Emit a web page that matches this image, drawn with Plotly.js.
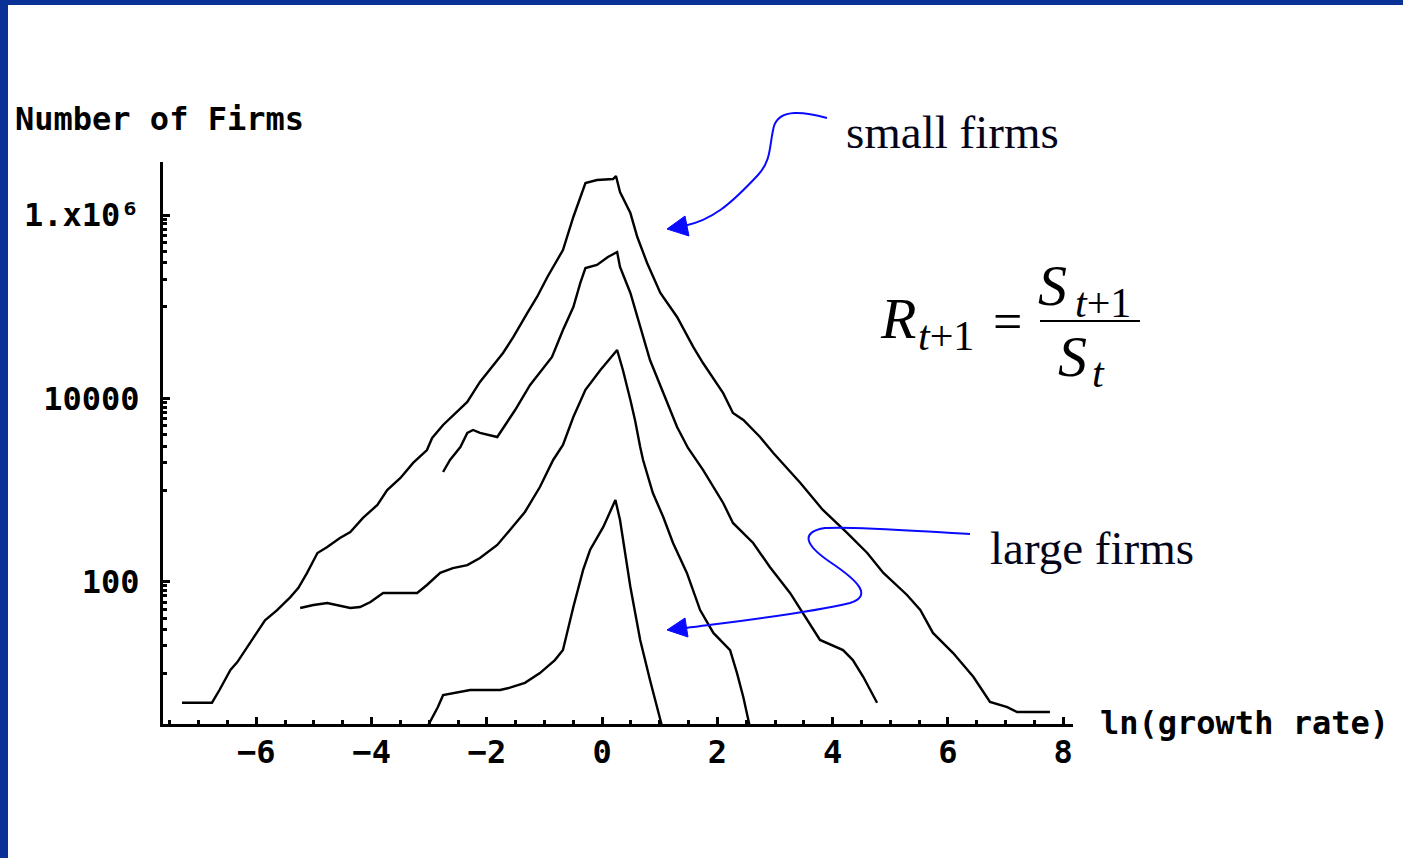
<!DOCTYPE html>
<html>
<head>
<meta charset="utf-8">
<script src="https://cdn.plot.ly/plotly-3.0.1.min.js"></script>
<style>
html,body{margin:0;padding:0;background:#fff;overflow:hidden;}
#chart{position:absolute;left:0;top:0;width:1403px;height:858px;}
#bl{position:absolute;left:0;top:0;width:8px;height:858px;background:#0a3296;}
#bt{position:absolute;left:0;top:0;width:1403px;height:5px;background:#0a3296;}
</style>
</head>
<body>
<div id="chart"></div>
<div id="bl"></div>
<div id="bt"></div>
<script>
// ---- data ----
const xTickVals = [-6, -4, -2, 0, 2, 4, 6, 8];
const yTickVals = [100, 10000, 1000000];
const yTickText = ["100", "10000", "1.x10\u2076"];

const curve1X = [-7.29,-6.77,-6.64,-6.45,-6.33,-6.16,-5.99,-5.85,-5.64,-5.41,-5.27,-5.12,-4.94,-4.77,-4.55,-4.37,-4.15,-3.90,-3.73,-3.50,-3.28,-3.04,-2.95,-2.76,-2.34,-2.12,-1.72,-1.54,-1.30,-1.13,-0.95,-0.78,-0.68,-0.50,-0.29,-0.09,0.19,0.24,0.31,0.49,0.61,0.78,1.01,1.30,1.58,1.75,2.10,2.27,2.45,2.74,2.97,3.44,3.83,4.25,4.60,4.88,5.29,5.52,5.74,6.09,6.44,6.73,7.03,7.20,7.77];
const curve1Y = [4.8,4.8,6.6,10.9,13.3,19.5,27.7,38,49,68,86,125,206,239,300,349,497,689,1000,1355,1977,2735,3700,5130,9140,15100,31300,46800,85300,127600,211000,323000,415000,951000,2230000,2410000,2470000,2660000,1780000,1050000,575000,300000,141000,77200,36400,24300,11400,6930,5810,3790,2540,1195,607,341,206,125,71.8,49.2,27.7,16.7,9.2,4.9,4.3,3.8,3.8];

const curve2X = [-2.76,-2.64,-2.46,-2.34,-2.24,-2.12,-1.82,-1.51,-1.25,-0.87,-0.68,-0.50,-0.38,-0.29,-0.09,0.10,0.26,0.31,0.49,0.66,0.83,1.06,1.30,1.49,1.75,2.10,2.27,2.62,2.91,3.26,3.56,3.78,4.18,4.35,4.53,4.77];
const curve2Y = [1574,2128,2950,4200,4520,4200,3790,7470,14000,28300,55700,99300,181000,264000,285000,348000,395000,271000,141000,60100,26200,11500,4880,2880,1660,723,438,265,145,75.5,38.3,23.2,18.0,14.0,9.2,4.8];

const curve3X = [-5.24,-5.01,-4.77,-4.60,-4.37,-4.20,-4.02,-3.80,-3.21,-3.04,-2.81,-2.59,-2.34,-2.12,-1.82,-1.60,-1.34,-1.08,-0.85,-0.68,-0.50,-0.29,-0.03,0.26,0.36,0.49,0.57,0.66,0.71,0.88,1.06,1.23,1.47,1.70,1.93,2.22,2.34,2.45,2.53,2.57];
const curve3Y = [51.8,55.8,58.7,55.8,51.8,53.1,60.2,75.5,75.5,92.3,125,141,152,182,252,367,577,1080,2130,3100,6270,12400,20400,33700,20400,9620,5810,2950,2130,929,509,265,125,49.2,27.7,18.0,10.1,5.5,3.1,2.5];

const curve4X = [-3.05,-2.85,-2.76,-2.59,-2.29,-1.77,-1.60,-1.34,-1.08,-0.82,-0.68,-0.50,-0.33,-0.21,0.02,0.23,0.31,0.49,0.66,0.83,1.01,1.05];
const curve4Y = [2.5,4.3,5.8,6.1,6.6,6.6,7.0,7.9,10.1,14.0,18.0,53.1,135,222,396,780,472,87.7,23.2,8.5,3.1,2.5];

// ---- minor log ticks: the decade below each labelled value ----
const yMinor = [];
[10, 1000, 100000].forEach(d => { for (let k = 1; k <= 9; k++) yMinor.push(k * d); });

// ---- helpers for decorations (pixel -> paper) ----
const L = 163, T = 162, W = 910, H = 562;
const px = x => (x - L) / W;
const py = y => (T + H - y) / H;
function path(cmds) {
  return cmds.map(c => c[0] + ' ' + c.slice(1).map((v, i) => i % 2 === 0 ? px(v).toFixed(5) : py(v).toFixed(5)).join(' ')).join(' ');
}

const lineStyle = {color: '#000', width: 2.4};
const traces = [
  {x: curve1X, y: curve1Y, mode: 'lines', line: lineStyle, name: 'c1'},
  {x: curve2X, y: curve2Y, mode: 'lines', line: lineStyle, name: 'c2'},
  {x: curve3X, y: curve3Y, mode: 'lines', line: lineStyle, name: 'c3'},
  {x: curve4X, y: curve4Y, mode: 'lines', line: lineStyle, name: 'c4'}
];

const monoFont = {family: 'DejaVu Sans Mono', size: 32, color: '#000', weight: 'bold'};
const serif = 'Liberation Serif, Times New Roman, serif';
const mathBig = {family: serif, size: 58, color: '#000'};
const mathSub = {family: serif, size: 42, color: '#000'};
const blue = '#0a0aff';

const shapes = [
  // small firms arrow
  {type: 'path', xref: 'paper', yref: 'paper', line: {color: blue, width: 2},
   path: path([['M', 827, 118], ['C', 805, 112, 780, 108, 774, 126], ['C', 769, 145, 772, 160, 758, 175], ['C', 730, 205, 712, 220, 684, 226]])},
  {type: 'path', xref: 'paper', yref: 'paper', line: {color: blue, width: 1}, fillcolor: blue,
   path: path([['M', 667, 229], ['L', 685, 216], ['L', 689, 236]]) + ' Z'},
  // large firms arrow
  {type: 'path', xref: 'paper', yref: 'paper', line: {color: blue, width: 2},
   path: path([['M', 970, 534], ['C', 900, 530, 850, 526, 825, 528], ['C', 800, 532, 805, 545, 830, 562], ['C', 860, 582, 872, 596, 850, 603], ['C', 800, 615, 720, 623, 685, 628]])},
  {type: 'path', xref: 'paper', yref: 'paper', line: {color: blue, width: 1}, fillcolor: blue,
   path: path([['M', 667, 630], ['L', 685, 618], ['L', 688, 637]]) + ' Z'},
  // fraction bar
  {type: 'line', xref: 'paper', yref: 'paper', x0: px(1040), x1: px(1140), y0: py(321), y1: py(321), line: {color: '#000', width: 2}}
];

const ann = (x, y, text, font, xanchor) => ({
  xref: 'paper', yref: 'paper', x: px(x), y: py(y), text: text, showarrow: false,
  font: font, xanchor: xanchor || 'left', yanchor: 'middle'
});

const annotations = [
  ann(13, 119, 'Number of Firms', monoFont, 'left'),
  ann(1098, 723, 'ln(growth rate)', monoFont, 'left'),
  ann(844, 132, 'small firms', {family: serif, size: 47, color: '#05051a'}, 'left'),
  ann(988, 548, 'large firms', {family: serif, size: 47, color: '#05051a'}, 'left'),
  // R_{t+1} = S_{t+1} / S_t
  ann(878, 318, '<i>R</i>', mathBig, 'left'),
  ann(916, 336, '<i>t</i>+1', mathSub, 'left'),
  ann(1007, 321, '=', {family: serif, size: 52, color: '#000'}, 'center'),
  ann(1036, 285, '<i>S</i>', mathBig, 'left'),
  ann(1073, 303, '<i>t</i>+1', mathSub, 'left'),
  ann(1056, 356, '<i>S</i>', mathBig, 'left'),
  ann(1090, 373, '<i>t</i>', mathSub, 'left')
];

const layout = {
  width: 1403, height: 858, autosize: false,
  paper_bgcolor: '#fff', plot_bgcolor: '#fff',
  margin: {l: L, r: 1403 - L - W, t: T, b: 858 - T - H, pad: 0},
  showlegend: false,
  xaxis: {
    range: [-7.62, 8.17], showgrid: false, zeroline: false,
    showline: true, linecolor: '#000', linewidth: 3,
    tickmode: 'array', tickvals: xTickVals,
    ticks: 'inside', ticklen: 7, tickwidth: 2.5, tickcolor: '#000',
    tickfont: monoFont, ticklabelstandoff: -2,
    minor: {dtick: 0.5, tick0: 0, ticks: 'inside', ticklen: 4, tickwidth: 2.5, tickcolor: '#000', showgrid: false}
  },
  yaxis: {
    type: 'log', range: [0.449, 6.578], showgrid: false, zeroline: false,
    showline: true, linecolor: '#000', linewidth: 3,
    tickmode: 'array', tickvals: yTickVals, ticktext: yTickText,
    ticks: 'inside', ticklen: 7, tickwidth: 2.5, tickcolor: '#000',
    tickfont: monoFont, ticklabelstandoff: 14,
    minor: {tickmode: 'array', tickvals: yMinor, ticks: 'inside', ticklen: 4, tickwidth: 2.5, tickcolor: '#000', showgrid: false}
  },
  shapes: shapes,
  annotations: annotations
};

Plotly.newPlot('chart', traces, layout, {displayModeBar: false});
</script>
</body>
</html>
